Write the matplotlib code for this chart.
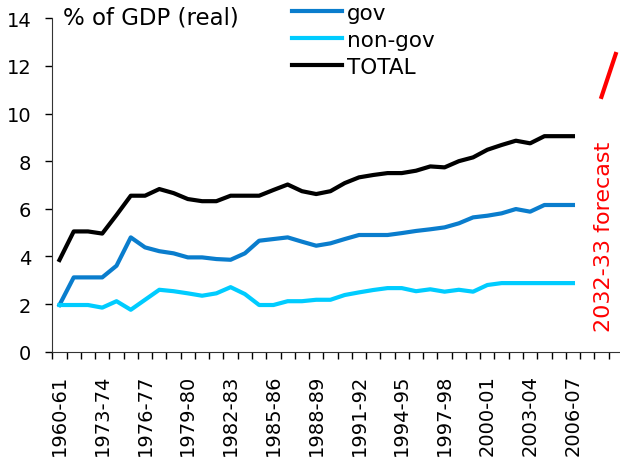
import numpy as np
import matplotlib
matplotlib.use('Agg')
import matplotlib.pyplot as plt

# Spending as % of GDP (real): 1960-61, then yearly from 1971-72 to 2006-07
years = ['1960-61'] + ['%d-%02d' % (y, (y + 1) % 100) for y in range(1971, 2007)]

gov = [1.96, 3.12, 3.12, 3.12, 3.61, 4.80, 4.38, 4.22, 4.13, 3.96,
       3.96, 3.89, 3.86, 4.13, 4.66, 4.73, 4.80, 4.62, 4.45, 4.55,
       4.73, 4.90, 4.90, 4.90, 4.98, 5.07, 5.14, 5.22, 5.39, 5.64,
       5.71, 5.81, 5.99, 5.88, 6.16, 6.16, 6.16]
nongov = [1.96, 1.96, 1.96, 1.85, 2.12, 1.76, 2.18, 2.60, 2.54, 2.45,
          2.35, 2.45, 2.71, 2.42, 1.96, 1.96, 2.12, 2.12, 2.18, 2.18,
          2.38, 2.49, 2.59, 2.67, 2.67, 2.54, 2.62, 2.52, 2.60, 2.52,
          2.80, 2.88, 2.88, 2.88, 2.88, 2.88, 2.88]
total = [3.85, 5.05, 5.05, 4.96, 5.74, 6.55, 6.55, 6.83, 6.66, 6.41,
         6.32, 6.32, 6.55, 6.55, 6.55, 6.79, 7.02, 6.74, 6.62, 6.74,
         7.08, 7.32, 7.42, 7.50, 7.50, 7.60, 7.78, 7.74, 8.00, 8.16,
         8.48, 8.68, 8.86, 8.75, 9.05, 9.05, 9.05]

# 2032-33 forecast range, drawn past the end of the actual series
forecast_pos = [38, 39]
forecast = [10.7, 12.5]

fig = plt.figure(figsize=(6.2, 4.64), dpi=100)
ax = fig.add_axes([0.0844, 0.2399, 0.9156, 0.7185])

x = np.arange(len(years))
ax.plot(x, gov, color='#0A7DCD', lw=3, label='gov')
ax.plot(x, nongov, color='#00CCFF', lw=3, label='non-gov')
ax.plot(x, total, color='k', lw=3, label='TOTAL')
ax.plot(forecast_pos, forecast, color='red', lw=3, clip_on=False)
ax.text(forecast_pos[0] + 0.2, 0.85, '2032-33 forecast', rotation=90,
        ha='center', va='bottom', color='red', fontsize=16)

ax.set_xlim(-0.5, 39.3)
ax.set_ylim(0, 14)
ax.set_yticks(range(0, 15, 2))
ax.set_xticks(x[::3])
ax.set_xticklabels(years[::3], rotation=90)
ax.set_xticks(np.arange(-0.5, 39, 1), minor=True)
ax.tick_params(axis='x', which='major', length=0, pad=16, labelsize=14)
ax.tick_params(axis='x', which='minor', length=5, width=1, direction='out')
ax.tick_params(axis='y', length=5, width=1, pad=10, labelsize=14)

for side in ['top', 'right']:
    ax.spines[side].set_visible(False)
ax.spines['left'].set_color('#333333')
ax.spines['bottom'].set_color('#333333')

fig.text(63 / 620, 1 - 18 / 464, '% of GDP (real)', ha='left', va='center',
         fontsize=16.5)
ax.legend(loc='upper left', bbox_to_anchor=(292 / 620, 1 - 4 / 464),
          bbox_transform=fig.transFigure, frameon=False, fontsize=15.5,
          borderpad=0, borderaxespad=0, handlelength=2.33,
          handletextpad=0.23, labelspacing=0.32)

plt.savefig('out.png', dpi=100)
